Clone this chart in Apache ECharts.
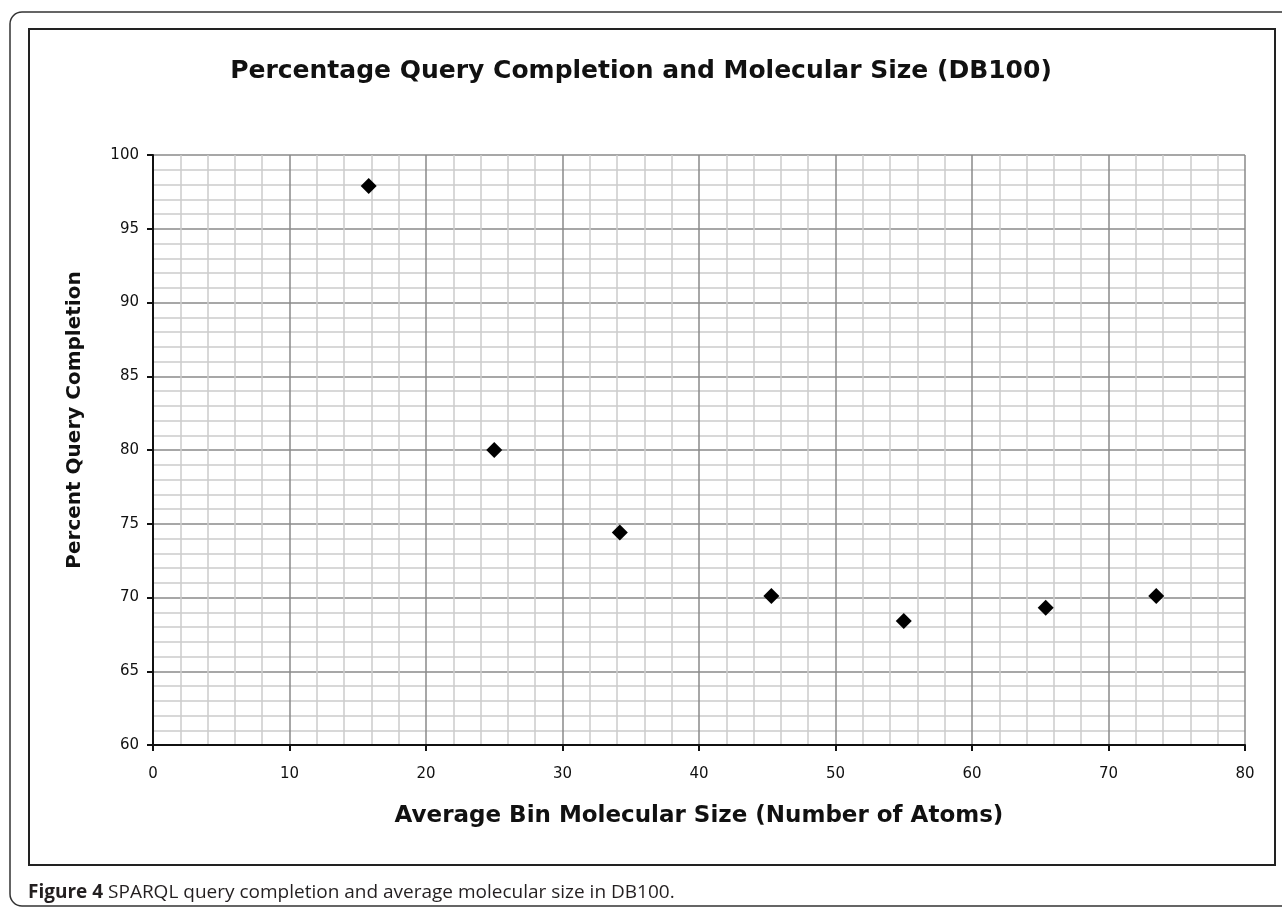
<!DOCTYPE html>
<html>
<head>
<meta charset="utf-8">
<title>Percentage Query Completion and Molecular Size (DB100)</title>
<script src="https://cdn.jsdelivr.net/npm/echarts@6/dist/echarts.min.js"></script>
<style>
  html, body { margin: 0; padding: 0; background: #fff; }
  #chart { width: 1282px; height: 908px; }
</style>
</head>
<body>
<div id="chart"></div>
<script>
// values
const sizeValues = [15.8, 25.0, 34.2, 45.3, 55.0, 65.4, 73.5];
const completionValues = [97.9, 80.0, 74.4, 70.1, 68.4, 69.3, 70.1];

const titleText = 'Percentage Query Completion and Molecular Size (DB100)';
const xName = 'Average Bin Molecular Size (Number of Atoms)';
const yName = 'Percent Query Completion';
const captionBold = 'Figure 4';
const captionText = ' SPARQL query completion and average molecular size in DB100.';

const points = sizeValues.map((x, i) => [x, completionValues[i]]);

const axisFont = 'DejaVu Sans, Liberation Sans, Arial, sans-serif';
const captionFont = 'Open Sans, Noto Sans, sans-serif';
const majorGrid = '#8a8a8a';
const minorGrid = '#cbcbcb';

const chart = echarts.init(document.getElementById('chart'));

const option = {
  animation: false,
  backgroundColor: '#fff',
  title: [
    {
      text: titleText,
      left: 'center',
      top: 54,
      textStyle: {
        fontFamily: axisFont,
        fontSize: 25,
        fontWeight: 'bold',
        color: '#111'
      }
    },
    {
      text: '{b|' + captionBold + '}{r|' + captionText + '}',
      left: 23,
      top: 878,
      textStyle: {
        fontWeight: 'normal',
        rich: {
          b: {
            fontFamily: captionFont,
            fontSize: 19,
            fontWeight: 'bold',
            color: '#231f20'
          },
          r: {
            fontFamily: captionFont,
            fontSize: 19,
            fontWeight: 'normal',
            color: '#231f20'
          }
        }
      }
    }
  ],
  graphic: [
    {
      type: 'rect',
      shape: { x: 10, y: 12, width: 1300, height: 894, r: 12 },
      style: { fill: 'none', stroke: '#333', lineWidth: 1.5 },
      silent: true
    },
    {
      type: 'rect',
      shape: { x: 29, y: 29, width: 1246, height: 836 },
      style: { fill: 'none', stroke: '#222', lineWidth: 2 },
      silent: true
    }
  ],
  grid: {
    left: 153,
    right: 37,
    top: 155,
    bottom: 163
  },
  xAxis: {
    type: 'value',
    min: 0,
    max: 80,
    interval: 10,
    name: xName,
    nameLocation: 'middle',
    nameGap: 60,
    nameTextStyle: {
      fontFamily: axisFont,
      fontSize: 23,
      fontWeight: 'bold',
      color: '#111'
    },
    axisLine: {
      onZero: false,
      lineStyle: { color: '#111', width: 2 }
    },
    axisTick: {
      show: true,
      inside: false,
      length: 6,
      lineStyle: { color: '#111', width: 2 }
    },
    axisLabel: {
      margin: 22,
      fontFamily: axisFont,
      fontSize: 15,
      color: '#111'
    },
    splitLine: {
      show: true,
      lineStyle: { color: majorGrid, width: 1.5 }
    },
    minorTick: { show: false, splitNumber: 5 },
    minorSplitLine: {
      show: true,
      lineStyle: { color: minorGrid, width: 1.5 }
    }
  },
  yAxis: {
    type: 'value',
    min: 60,
    max: 100,
    interval: 5,
    name: yName,
    nameLocation: 'middle',
    nameGap: 68,
    nameTextStyle: {
      fontFamily: axisFont,
      fontSize: 20,
      fontWeight: 'bold',
      color: '#111',
      // Excel placed this title a little above the plot centre
      padding: [0, 0, 0, 60]
    },
    axisLine: {
      show: true,
      lineStyle: { color: '#111', width: 2 }
    },
    axisTick: {
      show: true,
      inside: false,
      length: 6,
      lineStyle: { color: '#111', width: 2 }
    },
    axisLabel: {
      margin: 14,
      fontFamily: axisFont,
      fontSize: 15,
      color: '#111'
    },
    splitLine: {
      show: true,
      lineStyle: { color: majorGrid, width: 1.5 }
    },
    minorTick: { show: false, splitNumber: 5 },
    minorSplitLine: {
      show: true,
      lineStyle: { color: minorGrid, width: 1.5 }
    }
  },
  series: [
    {
      type: 'scatter',
      data: points,
      symbol: 'diamond',
      symbolSize: [16, 16],
      itemStyle: { color: '#000', opacity: 1 },
      z: 5
    }
  ]
};

chart.setOption(option);
</script>
</body>
</html>
